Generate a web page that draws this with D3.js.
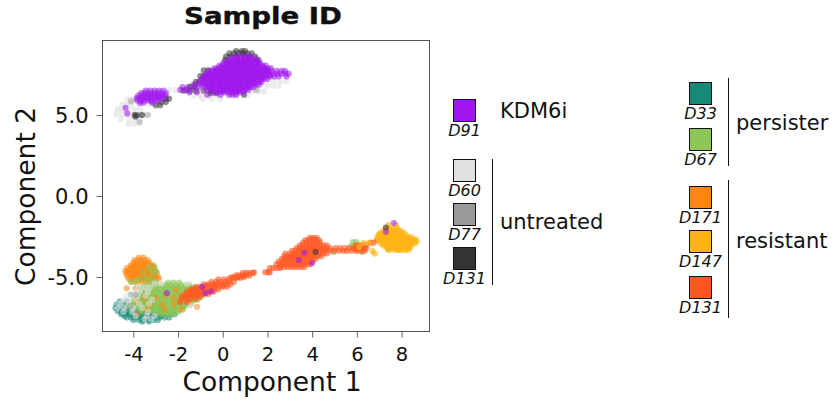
<!DOCTYPE html>
<html><head><meta charset="utf-8">
<script src="https://cdn.jsdelivr.net/npm/d3@7"></script>
<style>html,body{margin:0;background:#fff}svg{display:block}text{font-family:"DejaVu Sans",sans-serif;fill:#111}</style>
</head><body><svg id="c" width="835" height="405"></svg>
<script>
// each row: [y, x, x, x ...], in chart units
const D60 = [
[5.95,-4.25,-4.05,-3.9],[5.65,-4.5,-4.3,-4.1,-3.75],[5.35,-4.7,-4.5,-4.3,-3.95,-3.7],[5.05,-4.75,-4.5,-4.25,-3.9,-3.6],[4.75,-4.55,-4.2,-3.95,-3.7],[4.45,-4.2,-3.95],
[6.55,-2.4,-2.1,-1.8,-1.5],[6.2,-2.9,-2.6,-1.3,-1,-.6,-.2,.25,.6,1.1],[6.0,-3.1,-2.8,-.9,-.5,-.1],[6.45,.9,1.3,1.6,1.85],[6.8,1.7,2,2.25,2.5],[7.1,2.3,2.6,2.85],[5.7,-3.3,-3]];
const D60low = [
[-5.4,-3.05,-2.75,-1.6],[-5.65,-3.75,-3.5,-3.25],[-5.9,-3.95,-3.7,-3.35],[-6.15,-4.3,-4.05,-3.8,-3.45],[-6.4,-4.45,-4.2,-3.9,-3.15],[-6.65,-4.6,-4.2,-3.75,-3.3],[-6.9,-4.7,-4.4,-4,-3.6],[-7.15,-4.45,-4.05,-3.35],[-7.4,-3.9,-3.4,-3.05],[-7.6,-3.5,-3.2],[-6.75,-1.45]];
const D77 = [[7.3,-.9],[6.9,-1.3],[6.6,-1.6],[5.85,-4.1,-3.2],[5.0,-3.7,-3.35],[4.55,-3.72],[6.55,.65,1.5],[-6.1,-3.9],[-6.8,-4.15]];
const D131 = [
[8.95,.6,.85,1.0],[8.8,.3,.5,.72,.9,1.1,1.3],[8.6,.15,.35,.62,.95,1.2,1.45],[8.4,.1,1.6],[7.75,-.85,-.65],[7.4,-1,-.8],[7.05,-1.2,-1.05],[6.75,-1.45,-1.25],[6.5,-1.75,-1.45,-1.2,-.85,-.55],[6.35,-.55,-.3],
[6.0,-2.55,-2.4],[5.8,-2.75,-2.55],[5.6,-3,-2.8],[5.0,-3.95,-3.85,-3.6],[4.9,-3.9],[6.25,.95],[-3.45,4.15],[-1.95,7.3]];
const D33 = [
[-6.5,-4.6,-4.3,-3.9,-3.5],[-6.7,-4.75,-4.45,-4.1,-3.8,-3.4,-3.1],[-6.9,-4.8,-4.6,-4.4,-4.2,-3.95,-3.65,-3.35,-3.05,-2.8],[-7.1,-4.7,-4.5,-4.3,-4.1,-3.85,-3.55,-3.25,-2.95,-2.7,-2.45,-2.2],[-7.3,-4.55,-4.35,-4.15,-3.95,-3.7,-3.5,-3.3,-3.1,-2.85,-2.6,-2.35,-2.15],[-7.5,-4.3,-4.1,-3.9,-3.7,-3.5,-3.3,-3.1,-2.85,-2.6,-2.4],[-7.65,-4,-3.75,-3.55,-3.3,-3.1,-2.9],[-6.1,-4.1,-3.6],[-7.2,-4.5,-4.2,-3.85,-3.45,-3.15,-2.75,-2.5],[-7.4,-4.4,-4,-3.6,-3.2,-2.75],[-7.75,-3.6,-3.3]];
const D171 = [
[-3.8,-3.75,-3.55],[-3.95,-3.95,-3.8,-3.65,-3.5,-3.35],[-4.12,-4,-3.88,-3.72,-3.58,-3.42,-3.28],[-4.28,-4.12,-3.98,-3.83,-3.67,-3.52,-3.37,-3.22,-3.1],[-4.45,-4.28,-4.13,-3.98,-3.82,-3.67,-3.52,-3.38,-3.22,-3.08],[-4.62,-4.36,-4.22,-4.06,-3.92,-3.76,-3.62,-3.46,-3.32,-3.16,-3.02],[-4.78,-4.32,-4.18,-4.02,-3.88,-3.72,-3.58,-3.42,-3.28,-3.12,-2.98],[-4.95,-4.28,-4.12,-3.96,-3.82,-3.66,-3.52,-3.36,-3.22,-3.06,-2.9],[-5.12,-4.2,-4.05,-3.9,-3.75,-3.6,-3.45,-3.3,-3.15,-3,-2.85],[-5.28,-4.1,-3.95,-3.78,-3.62,-3.45,-3.3,-3.15],[-5.7,-4.3,-3.9,-3.2],
[-4.35,-4.05,-3.75,-3.45,-3.15],[-4.7,-4.25,-3.95,-3.65,-3.35,-3.05],[-5.0,-4.05,-3.75,-3.45,-3.15]];
const D171low = [[-6.3,-3.5,-3,-2.2],[-6.7,-2.7,-2.2,-3.25],[-6.1,-2.55,-1.85],[-6.5,-1.95,-1.5,-3.85],[-7,-3.45,-1.85,-2.6],[-7.3,-3.85],[-5.8,-2.1,-1.45],[-6.85,-1.15]];
const D67 = [
[-5.35,-2.45,-2.2,-1.95],[-5.5,-3.5,-3.2,-2.95,-2.7,-2.5,-2.3,-2.1,-1.9,-1.7,-1.5],[-5.65,-3.7,-3.45,-3.2,-3.05,-2.88,-2.72,-2.55,-2.38,-2.22,-2.05,-1.88,-1.72,-1.55,-1.38,-1.2],[-5.8,-3.6,-3.42,-3.25,-3.08,-2.92,-2.75,-2.58,-2.42,-2.25,-2.08,-1.92,-1.75,-1.58,-1.42,-1.25],[-5.95,-3.65,-3.48,-3.32,-3.15,-2.98,-2.82,-2.65,-2.48,-2.32,-2.15,-1.98,-1.82,-1.65,-1.48,-1.32,-1.15,-.95,-.75],[-6.1,-3.78,-3.6,-3.42,-3.25,-3.08,-2.92,-2.75,-2.58,-2.42,-2.25,-2.08,-1.92,-1.75,-1.58,-1.42,-1.25,-1.08,-.9],[-6.25,-3.98,-3.7,-3.52,-3.35,-3.18,-3.02,-2.85,-2.68,-2.52,-2.35,-2.18,-2.02,-1.85,-1.68,-1.52,-1.35,-1.18,-1.0],[-6.4,-3.95,-3.78,-3.62,-3.45,-3.28,-3.12,-2.95,-2.78,-2.62,-2.45,-2.28,-2.12,-1.95,-1.78,-1.62,-1.45,-1.28,-1.12],[-6.55,-4.05,-3.88,-3.72,-3.55,-3.38,-3.22,-3.05,-2.88,-2.72,-2.55,-2.38,-2.22,-2.05,-1.88,-1.72,-1.55,-1.38],[-6.7,-4.2,-3.95,-3.78,-3.62,-3.45,-3.28,-3.12,-2.95,-2.78,-2.62,-2.45,-2.28,-2.12,-1.95,-1.78,-1.62,-1.45],[-6.85,-4.15,-3.88,-3.72,-3.55,-3.38,-3.22,-3.05,-2.88,-2.72,-2.55,-2.38,-2.22,-2.05,-1.88,-1.72],[-7,-3.7,-3.45,-3.28,-3.12,-2.95,-2.78,-2.62,-2.45,-2.28,-2.12,-1.95,-1.78],[-7.15,-3.6,-3.2,-3,-2.82,-2.65,-2.48,-2.32,-2.15,-1.98],[-7.3,-2.78,-2.6,-2.42,-2.25],
[-5.1,-3.75,-3.45,-3.2],[-4.7,-3.55,-3.15,-2.95],[-4.4,-3.3,-3.05],[-5.3,-4.1,-3.9,-3.2,-3],[-5.65,-.95],[-5.85,-.6],[-3.1,5.72,5.88,6.02],[-2.85,5.82,5.98],[-3.45,4.95,6.25],[-3.3,7.4,7.9]];
const D131R = [
[-5.15,-.2,.05,.25],[-5.3,-.5,-.3,-.1,.1,.3,.5],[-5.45,-.85,-.65,-.45,-.25,-.05,.15,.35],[-5.6,-1.2,-1,-.8,-.6,-.4,-.2,0,.2],[-5.75,-1.4,-1.2,-1,-.8,-.6,-.4,-.2],[-5.9,-1.6,-1.4,-1.2,-1,-.8,-.6,-.4],[-6.05,-1.65,-1.45,-1.25,-1.05,-.85,-.65],[-6.2,-1.8,-1.6,-1.4,-1.2,-1],[-6.35,-1.85,-1.65,-1.45,-1.2],[-6.55,-1.9,-1.6],[-5.52,-.7,-.35,0],[-5.82,-1.3,-.9,-.5],[-6.12,-1.5,-1.1],
[-5.05,.35,.5,.65,.8],[-4.9,.6,.75,.9,1.05,1.2],[-4.75,.9,1.05,1.2,1.35],[-5.0,.45,.7,.95],[-4.72,1.4],
[-4.7,1.9,2.1,2.05],[-4.45,2.1,2.25,2.4,2.55],[-4.38,2.6,2.75,2.9,3.05,3.2,3.35,3.5,3.65],[-4.22,2.4,2.55,2.7,2.85,3,3.15,3.3,3.45,3.6,3.75,3.9],[-4.05,2.5,2.65,2.8,2.95,3.1,3.25,3.4,3.55,3.7,3.85,4],[-3.88,2.65,2.8,2.95,3.1,3.25,3.4,3.55,3.7,3.85,4,4.15],[-3.72,2.75,2.9,3.05,3.2,3.35,3.5,3.65,3.8,3.95,4.1,4.25,4.4],[-3.55,2.8,3,3.15,3.3,3.45,3.6,3.75,3.9,4.05,4.2,4.35,4.5,4.65],[-3.38,3.1,3.25,3.4,3.55,3.7,3.85,4,4.15,4.3,4.45,4.6,4.8,5,5.2,5.4,5.55,5.75,5.95,6.05,6.2,6.35],[-3.22,3.3,3.45,3.6,3.75,3.9,4.05,4.2,4.35,4.5,4.65,4.8,5.05,5.25,5.45,5.65,5.85,6,6.15,6.3,6.42],[-3.05,3.45,3.6,3.75,3.9,4.05,4.2,4.35,4.5,4.65,5.95,6.1,6.25,6.4],[-2.88,3.6,3.75,3.9,4.05,4.2,4.35,6.6,6.75],[-2.72,3.7,3.85,4,4.15,4.3,6.9],[-2.58,3.9,4.05,4.2],[-2.4,7.05,7.15],[-3.2,7.67],[-3.1,8.25],[-3.8,3,3.15]];
const D147 = [
[-2,7.3,7.45,7.65,7.8],[-2.13,7.2,7.35,7.5,7.65,7.8,7.95],[-2.27,7.05,7.2,7.35,7.5,7.65,7.8,7.95,8.1],[-2.4,6.98,7.12,7.28,7.42,7.58,7.72,7.88,8.02,8.18],[-2.53,6.92,7.08,7.22,7.38,7.52,7.68,7.82,7.98,8.12,8.28,8.42],[-2.67,6.98,7.12,7.28,7.42,7.58,7.72,7.88,8.02,8.18,8.32,8.48,8.62],[-2.8,7.02,7.18,7.32,7.48,7.62,7.78,7.92,8.08,8.22,8.38,8.52,8.68],[-2.93,7.08,7.22,7.38,7.52,7.68,7.82,7.98,8.12,8.28,8.42,8.58],[-3.07,7.2,7.35,7.5,7.65,7.8,7.95,8.1,8.25,8.4],[-3.2,7.35,7.5,7.65,7.8,7.95,8.1,8.25,8.38],[-3.33,7.45,7.7,7.85,8,8.15,8.3],[-3.55,6.8],[-2.9,6.55,6.3],[-3.15,6.1],[-3.4,6.7],[-1.8,7.4,7.75]];
const D91 = [
[8.62,.6,.8,1.05,1.2],[8.48,.35,.5,.66,.82,.98,1.14,1.3,1.45],[8.35,.2,.35,.5,.65,.8,.95,1.1,1.25,1.4,1.55],[8.2,.02,.17,.32,.47,.62,.77,.92,1.07,1.22,1.37,1.52,1.67],[8.05,-.15,.02,.18,.33,.5,.65,.82,.97,1.13,1.3,1.46,1.62,1.78,1.92],[7.88,-.38,-.22,-.06,.1,.26,.42,.58,.74,.9,1.06,1.22,1.38,1.54,1.7,1.86,2.02,2.15],[7.72,-.62,-.46,-.3,-.14,.01,.17,.32,.48,.63,.79,.94,1.1,1.25,1.41,1.56,1.72,1.87,2.03,2.18,2.4,2.62,2.78],[7.55,-.75,-.6,-.44,-.28,-.12,.03,.19,.34,.5,.65,.81,.96,1.12,1.27,1.43,1.58,1.74,1.89,2.05,2.25,2.45,2.62,2.8,2.95],[7.38,-.85,-.7,-.54,-.38,-.23,-.07,.08,.24,.39,.55,.7,.86,1.01,1.17,1.32,1.48,1.63,1.79,1.94,2.1,2.3,2.5,2.85],[7.22,-.95,-.8,-.64,-.48,-.33,-.17,-.02,.14,.29,.45,.6,.76,.91,1.07,1.22,1.38,1.53,1.69,1.84,2],[7.05,-1.05,-.9,-.74,-.58,-.43,-.27,-.12,.04,.19,.35,.5,.66,.81,.97,1.12,1.28,1.43,1.59,1.74],[6.88,-1.25,-1,-.84,-.68,-.53,-.37,-.22,-.06,.09,.25,.4,.56,.71,.87,1.02,1.18,1.33,1.49,1.62],[6.72,-1.8,-1.55,-1.3,-1.05,-.78,-.62,-.47,-.31,-.16,0,.15,.31,.46,.62,.77,.93,1.08,1.24,1.39],[6.55,-1.9,-1.65,-.7,-.42,-.26,-.1,.05,.21,.36,.52,.67,.83,.98,1.14],[6.4,-1.5,-1.15,-.4,-.2,-.03,.13,.28,.44,.59,.75,.92],[6.25,-.7,-.1,.3,.45,.6],
[8.28,.28,.58,.88,1.18,1.48],[8.12,.1,.4,.7,1,1.3,1.6],[7.96,-.1,.22,.55,.86,1.18,1.5,1.8],[7.8,-.3,0,.35,.66,.98,1.3,1.62,1.95],[7.64,-.52,-.2,.1,.42,.75,1.05,1.36,1.68,2],[7.47,-.66,-.34,-.02,.28,.6,.92,1.22,1.54,1.86,2.15],[7.3,-.76,-.44,-.12,.18,.5,.82,1.12,1.44,1.76],[7.13,-.88,-.55,-.24,.08,.4,.7,1.02,1.34,1.66],[6.97,-.78,-.46,-.14,.18,.48,.8,1.1,1.4],[6.8,-.7,-.38,-.08,.24,.55,.86,1.18],[6.64,-.5,-.18,.12,.44,.75,1.05],[6.48,-.3,.04,.36,.68],
[6.5,-3.45,-3.25,-3.05,-2.85,-2.65],[6.35,-3.65,-3.5,-3.35,-3.2,-3.05,-2.9,-2.75,-2.55],[6.2,-3.78,-3.62,-3.47,-3.32,-3.17,-3.02,-2.87,-2.72,-2.55],[6.05,-3.85,-3.7,-3.55,-3.4,-3.25,-3.1,-2.95,-2.8,-2.65],[5.9,-3.82,-3.65,-3.5,-3.35,-3.2,-3.02,-2.88],[5.75,-3.7,-3.55,-3.15],[5.45,-4.35],[5.1,-4.27],
[-5.6,-.92],[-6,-2.5,-.77],[-5.9,-.52],[-3.5,3.65],[-3.95,3.4],[-4.15,4],[-1.67,7.65],[-2.2,7.3]];

const order = [
  {name:"D60",   values:D60,    color:"#e0e0e0", a:.6},
  {name:"D33",   values:D33,    color:"#168a78", a:.55},
  {name:"D171",  values:D171,   color:"#ff8510", a:.55},
  {name:"D67",   values:D67,    color:"#8bc656", a:.6},
  {name:"D171",  values:D171low,color:"#ff8510", a:.5},
  {name:"D60",   values:D60low, color:"#e0e0e0", a:.55},
  {name:"D131r", values:D131R,  color:"#ff5722", a:.6},
  {name:"D147",  values:D147,   color:"#ffb312", a:.65},
  {name:"D77",   values:D77,    color:"#999999", a:.5},
  {name:"D131",  values:D131,   color:"#333333", a:.55},
  {name:"D91",   values:D91,    color:"#a116ec", a:.55}
];
const xTicks = [-4,-2,0,2,4,6,8];
const yTicks = [-5,0,5];
const legendSwatches = [
  {id:"D91", color:"#a116ec", col:"a", top:99},
  {id:"D60", color:"#e0e0e0", col:"a", top:159},
  {id:"D77", color:"#999999", col:"a", top:203},
  {id:"D131",color:"#333333", col:"a", top:247},
  {id:"D33", color:"#168a78", col:"b", top:82},
  {id:"D67", color:"#8bc656", col:"b", top:128},
  {id:"D171",color:"#ff8510", col:"b", top:186},
  {id:"D147",color:"#ffb312", col:"b", top:230},
  {id:"D131",color:"#ff5722", col:"b", top:276}
];
const legendGroups = [
  {label:"KDM6i",    col:"a", y:111},
  {label:"untreated",col:"a", y:222, bar:[159,285]},
  {label:"persister",col:"b", y:123, bar:[78,166]},
  {label:"resistant",col:"b", y:241, bar:[180,318]}
];

const svg = d3.select("#c");
const F = {l:102.5,r:429.5,t:40.5,b:331.5};
const x = d3.scaleLinear().domain([-5.38,9.25]).range([F.l,F.r]);
const y = d3.scaleLinear().domain([-8.364,9.6]).range([F.b,F.t]);
const plot = svg.append("g");
order.forEach(s=>{
  const pts = s.values.flatMap(([yy,...xs])=>xs.map(v=>[v,yy]));
  plot.append("g").selectAll("circle").data(pts).join("circle")
    .attr("cx",d=>x(d[0])).attr("cy",d=>y(d[1])).attr("r",3.1)
    .attr("fill",s.color).attr("opacity",s.a);
});
svg.append("rect").attr("x",F.l).attr("y",F.t).attr("width",F.r-F.l).attr("height",F.b-F.t)
  .attr("fill","none").attr("stroke","#555").attr("stroke-width",1);
const ax = svg.append("g").attr("transform",`translate(0,${F.b})`).call(d3.axisBottom(x).tickValues(xTicks).tickSize(6).tickPadding(5).tickFormat(d=>String(d)));
const ay = svg.append("g").attr("transform",`translate(${F.l},0)`).call(d3.axisLeft(y).tickValues(yTicks).tickSize(6).tickPadding(8).tickFormat(d=>d.toFixed(1)));
[ax,ay].forEach(a=>{a.select(".domain").remove();a.selectAll("line").attr("stroke","#666");a.selectAll("text").attr("fill","#111");});
ax.selectAll("text").style("font-size","19.5px").attr("dy","0.93em");
ay.selectAll("text").style("font-size","21px").attr("dy","0.36em");
const txt=(t,xx,yy,size,anchor,extra={})=>{const e=svg.append("text").text(t).attr("x",xx).attr("y",yy).attr("text-anchor",anchor).style("font-size",size+"px");Object.entries(extra).forEach(([k,v])=>e.style(k,v));return e;};
txt("Sample ID",0,0,23,"middle",{"font-weight":"bold","stroke":"#111","stroke-width":"0.4px"}).attr("transform","translate(263,24) scale(1.2,1)");
txt("Component 1",272,391,26.5,"middle");
txt("Component 2",0,0,26.5,"middle").attr("transform","translate(35,196.5) rotate(-90)");
const colX={a:{sq:453,cx:464.5,bar:492.5,tx:500},b:{sq:689,cx:700.5,bar:728.5,tx:736}};
legendSwatches.forEach(s=>{const c=colX[s.col];
  svg.append("rect").attr("x",c.sq+.5).attr("y",s.top+.5).attr("width",22).attr("height",22).attr("fill",s.color).attr("stroke","#111").attr("stroke-width",1);
  txt(s.id,c.cx,s.top+37,16,"middle",{"font-style":"italic"});
});
legendGroups.forEach(g=>{const c=colX[g.col];
  if(g.bar) svg.append("line").attr("x1",c.bar).attr("x2",c.bar).attr("y1",g.bar[0]).attr("y2",g.bar[1]).attr("stroke","#111").attr("stroke-width",1);
  txt(g.label,c.tx,g.y+7,21,"start");
});
</script></body></html>
